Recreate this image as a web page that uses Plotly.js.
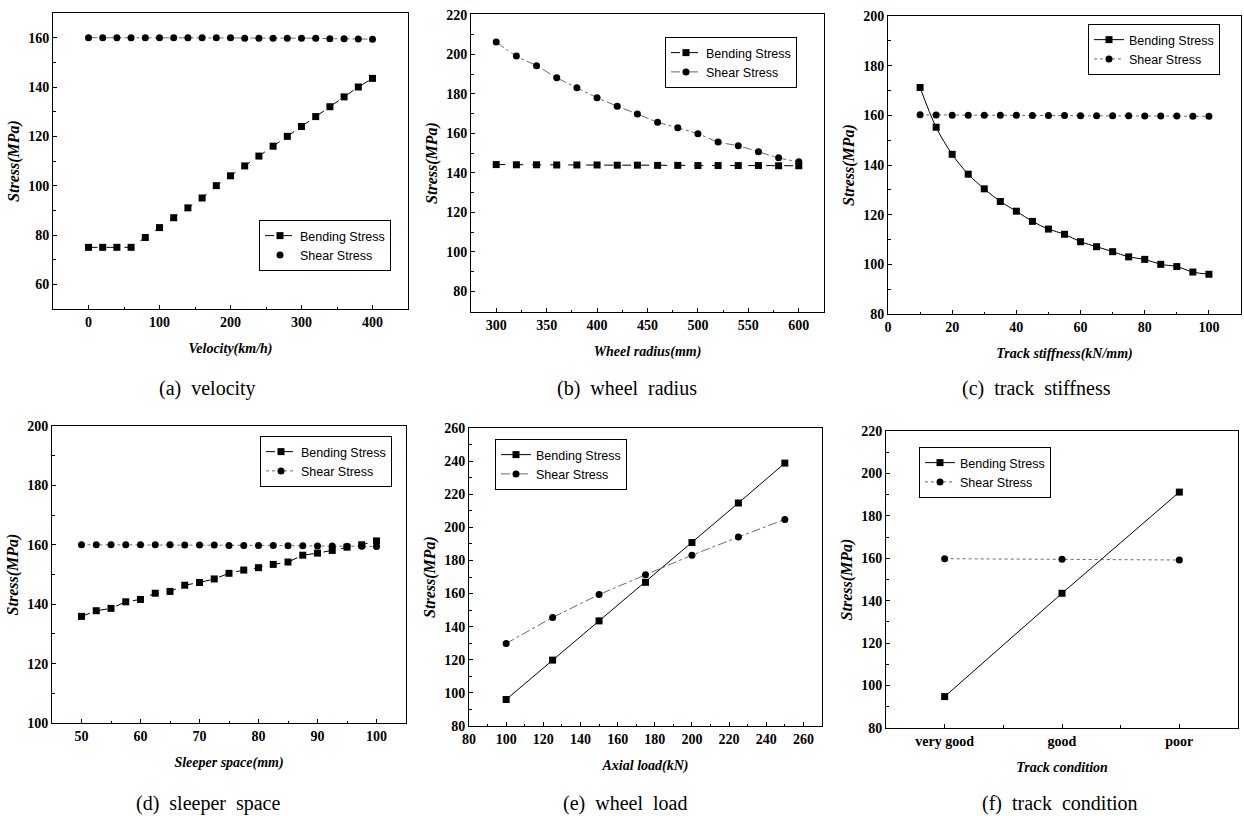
<!DOCTYPE html>
<html>
<head>
<meta charset="utf-8">
<script src="https://cdn.plot.ly/plotly-3.0.1.min.js"></script>
<style>html,body{margin:0;padding:0;background:#fff;}#chart{width:1244px;height:816px;}</style>
</head>
<body>
<div id="chart"></div>
<script>
// ---------- DATA ----------
// (a) velocity
const velocity = [0,20,40,60,80,100,120,140,160,180,200,220,240,260,280,300,320,340,360,380,400];
const velBending = [75,75,75,75,79,83,87,91,95,100,104,108,112,116,120,124,128,132,136,140,143.5];
const velShear = [160,160,160,160,160,160,160,160,160,160,160,159.8,159.8,159.8,159.8,159.8,159.8,159.6,159.6,159.5,159.4];
// (b) wheel radius
const radius = [300,320,340,360,380,400,420,440,460,480,500,520,540,560,580,600];
const radBending = [144.2,144.1,144.1,144,144,144,143.9,143.9,143.8,143.8,143.7,143.7,143.7,143.7,143.6,143.6];
const radShear = [206.3,199.2,194.3,188.2,183.1,178.1,173.8,169.8,165.7,162.8,159.8,155.7,153.7,150.7,147.6,145.6];
// (c) track stiffness
const stiffness = [10,15,20,25,30,35,40,45,50,55,60,65,70,75,80,85,90,95,100];
const stiBending = [171.2,155.2,144.3,136.3,130.4,125.3,121.4,117.3,114.2,112.1,109.1,107.1,105.1,103,102,100,99.1,96.9,96];
const stiShear = [160.2,160.1,160,160,160,160,160,159.9,159.9,159.9,159.8,159.8,159.8,159.8,159.7,159.7,159.7,159.6,159.6];
// (d) sleeper space
const sleeper = [50,52.5,55,57.5,60,62.5,65,67.5,70,72.5,75,77.5,80,82.5,85,87.5,90,92.5,95,97.5,100];
const slpBending = [135.9,137.8,138.6,140.8,141.6,143.7,144.3,146.4,147.3,148.5,150.4,151.5,152.3,153.4,154.2,156.5,157.2,158.1,159.2,160,161.3];
const slpShear = [160,160,160,160,160,160,160,159.9,159.9,159.9,159.8,159.8,159.8,159.8,159.7,159.7,159.6,159.6,159.5,159.5,159.4];
// (e) wheel (axial) load
const axialLoad = [100,125,150,175,200,225,250];
const loadBending = [96,119.8,143.5,166.8,190.8,214.7,238.8];
const loadShear = [129.8,145.6,159.4,171.4,183.2,194.1,204.8];
// (f) track condition
const conditions = ['very good','good','poor'];
const condBending = [94.8,143.5,191.2];
const condShear = [159.8,159.6,159.2];

const seriesNames = ['Bending Stress','Shear Stress'];
const xTitles = ['Velocity(km/h)','Wheel radius(mm)','Track stiffness(kN/mm)','Sleeper space(mm)','Axial load(kN)','Track condition'];
const yTitle = 'Stress(MPa)';
const captions = ['(a)&nbsp; velocity','(b)&nbsp; wheel&nbsp; radius','(c)&nbsp; track&nbsp; stiffness','(d)&nbsp; sleeper&nbsp; space','(e)&nbsp; wheel&nbsp; load','(f)&nbsp; track&nbsp; condition'];

// ---------- LAYOUT HELPERS ----------
const W = 1244, H = 816;
const px = x => x / W;
const py = y => 1 - y / H;

const frames = [
  {l:53, r:408, t:13, b:309},
  {l:471, r:824, t:14, b:312},
  {l:888, r:1241, t:16, b:314},
  {l:52, r:406, t:426, b:723},
  {l:469, r:822, t:428, b:726},
  {l:886, r:1238, t:431, b:728}
];
const legPos = [
  {x:259, y:220}, {x:665, y:37}, {x:1088, y:24},
  {x:260, y:436}, {x:495, y:439}, {x:919, y:447}
];
const capPos = [
  {x:207, y:388}, {x:627, y:388}, {x:1036, y:388},
  {x:208, y:803}, {x:625, y:803}, {x:1060, y:803}
];

const serif = '"Liberation Serif", "Times New Roman", Times, serif';
const tickFont = {family:serif, size:14, weight:700, color:'black'};
const xTitleFont = {family:serif, size:14, weight:700, style:'italic', color:'black'};
const yTitleFont = {family:serif, size:16, weight:700, style:'italic', color:'black'};

function axisBase(extra){
  return Object.assign({
    showline:true, linecolor:'black', linewidth:1, mirror:true,
    ticks:'inside', ticklen:4, tickwidth:1, tickcolor:'black',
    showgrid:false, zeroline:false, tickfont:tickFont, fixedrange:true
  }, extra);
}

const xSpecs = [
  {range:[-50,450], tick0:0, dtick:100, minor:{ticks:'inside', ticklen:2.5, tickcolor:'black', dtick:50, tick0:0}},
  {range:[275,625], tick0:0, dtick:50, minor:{ticks:'inside', ticklen:2.5, tickcolor:'black', dtick:25, tick0:0}},
  {range:[0,110], tick0:0, dtick:20, minor:{ticks:'inside', ticklen:2.5, tickcolor:'black', dtick:10, tick0:0}},
  {range:[45,105], tick0:0, dtick:10, minor:{ticks:'inside', ticklen:2.5, tickcolor:'black', dtick:5, tick0:0}},
  {range:[80,270], tick0:0, dtick:20, minor:{ticks:'inside', ticklen:2.5, tickcolor:'black', dtick:10, tick0:0}},
  {range:[-0.5,2.5], tickmode:'array', tickvals:conditions.map((c,i)=>i), ticktext:conditions, minor:{ticks:'inside', ticklen:3, tickcolor:'black', dtick:0.5, tick0:0}}
];
const ySpecs = [
  {range:[50,170], tick0:0, dtick:20},
  {range:[69.5,220.5], tick0:0, dtick:20},
  {range:[80,200], tick0:0, dtick:20},
  {range:[100,200], tick0:0, dtick:20},
  {range:[80,260], tick0:0, dtick:20},
  {range:[80,220], tick0:0, dtick:20}
];

const layout = {
  width:W, height:H,
  margin:{l:0,r:0,t:0,b:0},
  paper_bgcolor:'white', plot_bgcolor:'white',
  showlegend:true,
  annotations:[]
};

for (let i=0;i<6;i++){
  const f = frames[i];
  const sx = i===0 ? '' : String(i+1);
  layout['xaxis'+sx] = axisBase(Object.assign({
    domain:[px(f.l), px(f.r)], anchor:'y'+sx,
    title:{text:xTitles[i], font:xTitleFont, standoff:14}
  }, xSpecs[i]));
  layout['yaxis'+sx] = axisBase(Object.assign({
    domain:[py(f.b), py(f.t)], anchor:'x'+sx,
    minor:{ticks:'inside', ticklen:2.5, tickcolor:'black', dtick:10, tick0:0},
    title:{text:yTitle, font:yTitleFont, standoff:4}
  }, ySpecs[i]));
  const lk = i===0 ? 'legend' : 'legend'+(i+1);
  layout[lk] = {
    x:px(legPos[i].x), y:py(legPos[i].y), xanchor:'left', yanchor:'top',
    xref:'paper', yref:'paper',
    bgcolor:'white', bordercolor:'black', borderwidth:1,
    font:{family:'"Liberation Sans", Arial, sans-serif', size:12.5, color:'black'},
    itemwidth:30, tracegroupgap:0
  };
  layout.annotations.push({
    xref:'paper', yref:'paper', x:px(capPos[i].x), y:py(capPos[i].y),
    xanchor:'center', yanchor:'middle', showarrow:false,
    text:captions[i],
    font:{family:serif, size:20, color:'black'}
  });
}

const datasets = [
  {x:velocity, b:velBending, s:velShear, bDash:'dash', sDash:'dashdot', bShape:'linear', sShape:'linear', sLegendLine:false},
  {x:radius, b:radBending, s:radShear, bDash:'dash', sDash:'dashdot', bShape:'linear', sShape:'spline', sLegendLine:true},
  {x:stiffness, b:stiBending, s:stiShear, bDash:'solid', sDash:'dot', bShape:'spline', sShape:'linear', sLegendLine:true},
  {x:sleeper, b:slpBending, s:slpShear, bDash:'dash', sDash:'dot', bShape:'linear', sShape:'linear', sLegendLine:true},
  {x:axialLoad, b:loadBending, s:loadShear, bDash:'solid', sDash:'dashdot', bShape:'linear', sShape:'linear', sLegendLine:true},
  {x:conditions.map((c,i)=>i), b:condBending, s:condShear, bDash:'solid', sDash:'dot', bShape:'linear', sShape:'linear', sLegendLine:true}
];

const traces = [];
datasets.forEach((d,i)=>{
  const sx = i===0 ? '' : String(i+1);
  const lg = i===0 ? 'legend' : 'legend'+(i+1);
  traces.push({
    x:d.x, y:d.b, xaxis:'x'+sx, yaxis:'y'+sx, legend:lg,
    name:seriesNames[0], mode:'lines+markers', type:'scatter',
    line:{color:'black', width:1, dash:d.bDash, shape:d.bShape},
    marker:{symbol:'square', size:7, color:'black'}, hoverinfo:'skip'
  });
  if (d.sLegendLine){
    traces.push({
      x:d.x, y:d.s, xaxis:'x'+sx, yaxis:'y'+sx, legend:lg,
      name:seriesNames[1], mode:'lines+markers', type:'scatter',
      line:{color:'#444', width:0.8, dash:d.sDash, shape:d.sShape},
      marker:{symbol:'circle', size:7, color:'black'}, hoverinfo:'skip'
    });
  } else {
    traces.push({
      x:d.x, y:d.s, xaxis:'x'+sx, yaxis:'y'+sx, showlegend:false,
      mode:'lines', type:'scatter',
      line:{color:'#444', width:0.8, dash:d.sDash, shape:d.sShape}, hoverinfo:'skip'
    });
    traces.push({
      x:d.x, y:d.s, xaxis:'x'+sx, yaxis:'y'+sx, legend:lg,
      name:seriesNames[1], mode:'markers', type:'scatter',
      marker:{symbol:'circle', size:7, color:'black'}, hoverinfo:'skip'
    });
  }
});

Plotly.newPlot('chart', traces, layout, {staticPlot:true, displayModeBar:false});
</script>
</body>
</html>
